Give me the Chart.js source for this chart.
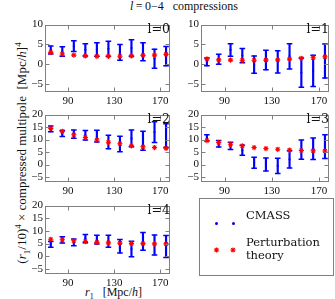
<!DOCTYPE html>
<html>
<head>
<meta charset="utf-8">
<script src="https://cdn.jsdelivr.net/npm/chart.js@4.4.1/dist/chart.umd.min.js"></script>
<style>
  body { margin: 0; background: #fff; }
  #fig { position: relative; width: 335px; height: 299px; overflow: hidden; background: #fff; color: #111; font-family: 'Liberation Serif', serif; }
  canvas { position: absolute; }
  .lab { position: absolute; white-space: nowrap; line-height: 1; }
  .plab { font-family: 'DejaVu Serif', serif; font-size: 12.5px; }
  #legend { position: absolute; left: 199px; top: 198px; width: 135px; height: 78px; box-sizing: border-box; border: 1px solid #808080; font-family: 'DejaVu Serif', serif; font-size: 11.5px; }
  .dot { position: absolute; width: 3px; height: 3px; border-radius: 50%; background: #0000ff; }
</style>
</head>
<body>
<div id="fig">
  <div class="lab" id="title" style="left:130px; top:0px; font-size:12px;"><i>l</i>&thinsp;=&thinsp;0&minus;4&nbsp;&nbsp; compressions</div>
  <div class="lab" style="left:23px; top:153px; font-size:13px; transform: translate(-50%,-50%) rotate(-90deg);">(<i>r</i><sub style="font-size:9px">1</sub>/10)<sup style="font-size:9px">4</sup> &times; compressed multipole&nbsp; [Mpc/<i>h</i>]<sup style="font-size:9px">4</sup></div>
  <div class="lab" style="left:85px; top:286px; font-size:12px;"><i>r</i><sub style="font-size:8px">1</sub>&nbsp;&nbsp; [Mpc/<i>h</i>]</div>

  <div id="legend">
    <span class="dot" style="left:15px; top:23px;"></span>
    <span class="dot" style="left:32px; top:23px;"></span>
    <div class="lab" style="left:46px; top:11px;">CMASS</div>
    <canvas id="star" width="40" height="12" style="left:8px; top:45px;"></canvas>
    <div class="lab" style="left:46px; top:38px;">Perturbation</div>
    <div class="lab" style="left:46px; top:51px;">theory</div>
  </div>
</div>

<script>
const r1 = [75, 85, 95, 105, 115, 125, 135, 145, 155, 165, 175];
const xTicks = [90, 130, 170];
const yTicksSmall = [-5, 0, 5, 10];
const yTicksLarge = [-5, 0, 5, 10, 15, 20];

// CMASS measurements (centre and 1-sigma error) and perturbation theory, one set per multipole
const cmass0 = [3.6, 3.2, 4.55, 3.65, 3.7, 3.9, 3.0, 4.1, 3.15, 1.4, 2.05];
const err0 = [1.0, 1.2, 1.35, 1.55, 1.7, 1.9, 2.0, 2.1, 2.25, 2.4, 2.45];
const theory0 = [3.0, 2.6, 2.3, 2.1, 2.0, 2.0, 2.0, 2.1, 2.25, 2.3, 2.5];

const cmass1 = [0.6, 1.25, 3.6, 2.2, -0.1, 1.05, 0.6, 2.0, -2.1, -1.65, 0.8];
const err1 = [1.0, 1.25, 1.6, 1.8, 2.2, 2.45, 2.8, 3.2, 3.7, 3.95, 4.3];
const theory1 = [1.35, 1.1, 1.05, 1.0, 1.0, 1.05, 1.1, 1.3, 1.5, 1.65, 1.9];

const cmass2 = [14.25, 12.4, 12.15, 11.7, 11.35, 9.0, 8.2, 10.45, 9.5, 12.95, 11.55];
const err2 = [1.15, 1.2, 1.65, 1.9, 2.35, 2.7, 3.1, 3.35, 3.8, 4.15, 4.75];
const theory2 = [14.5, 13.3, 11.9, 10.8, 9.8, 8.9, 8.3, 7.5, 7.1, 6.8, 6.5];

const cmass3 = [10.65, 8.3, 7.45, 5.7, 0.7, 0.0, -0.55, 2.05, 5.95, 6.3, 7.15];
const err3 = [1.25, 1.3, 1.45, 2.0, 2.2, 2.6, 3.05, 3.45, 3.85, 4.3, 4.75];
const theory3 = [9.6, 8.8, 8.1, 7.5, 6.8, 6.4, 6.1, 5.8, 5.6, 5.5, 5.4];

const cmass4 = [4.7, 6.45, 5.5, 6.95, 6.55, 5.95, 3.95, 2.85, 5.9, 4.45, 3.85];
const err4 = [1.1, 1.25, 1.3, 1.65, 1.75, 2.35, 2.65, 3.05, 3.5, 3.95, 4.35];
const theory4 = [6.7, 6.5, 6.1, 5.8, 5.5, 5.3, 5.2, 5.0, 5.0, 4.9, 4.9];

const BLUE = '#0000ff';
const RED = '#ff0000';
const yW = 24, xH = 16, padT = 2, padR = 3;

// frame with inward ticks on all four sides
const framePlugin = {
  id: 'frame',
  afterDraw(chart) {
    const { ctx, chartArea: a, scales: { x, y } } = chart;
    const L = Math.round(a.left) + 0.5, R = Math.round(a.right) - 0.5;
    const T = Math.round(a.top) + 0.5, B = Math.round(a.bottom) - 0.5;
    ctx.save();
    ctx.strokeStyle = '#808080';
    ctx.lineWidth = 1;
    ctx.strokeRect(L, T, R - L, B - T);
    ctx.beginPath();
    x.ticks.forEach(t => {
      const px = Math.round(x.getPixelForValue(t.value)) + 0.5;
      ctx.moveTo(px, B); ctx.lineTo(px, B - 4);
      ctx.moveTo(px, T); ctx.lineTo(px, T + 4);
    });
    y.ticks.forEach(t => {
      const py = Math.round(y.getPixelForValue(t.value)) + 0.5;
      ctx.moveTo(L, py); ctx.lineTo(L + 4, py);
      ctx.moveTo(R, py); ctx.lineTo(R - 4, py);
    });
    ctx.stroke();
    ctx.restore();
  }
};

function makePanel(cfg) {
  const canvas = document.createElement('canvas');
  const w = yW + cfg.w + padR, h = padT + cfg.h + xH;
  canvas.width = w; canvas.height = h;
  canvas.style.left = (cfg.left - yW) + 'px';
  canvas.style.top = (cfg.top - padT) + 'px';
  document.getElementById('fig').insertBefore(canvas, document.getElementById('legend'));

  const bars = r1.map((r, i) => ({ x: r, y: [cfg.mean[i] - cfg.err[i], cfg.mean[i] + cfg.err[i]] }));
  const tops = r1.map((r, i) => ({ x: r, y: cfg.mean[i] + cfg.err[i] }));
  const bottoms = r1.map((r, i) => ({ x: r, y: cfg.mean[i] - cfg.err[i] }));
  const centres = r1.map((r, i) => ({ x: r, y: cfg.mean[i] }));
  const theory = r1.map((r, i) => ({ x: r, y: cfg.theory[i] }));

  const tickFont = { family: "'Liberation Serif', serif", size: 11 };

  new Chart(canvas.getContext('2d'), {
    type: 'scatter',
    data: {
      datasets: [
        { type: 'bar', data: bars, backgroundColor: BLUE, borderWidth: 0, barThickness: 1.5, order: 3 },
        { data: tops, pointStyle: 'line', radius: 2.8, borderColor: BLUE, borderWidth: 1.5, order: 2 },
        { data: bottoms, pointStyle: 'line', radius: 2.8, borderColor: BLUE, borderWidth: 1.5, order: 2 },
        { data: centres, pointStyle: 'circle', radius: 1.1, backgroundColor: BLUE, borderWidth: 0, order: 2 },
        { data: theory, pointStyle: 'star', radius: 2.6, borderColor: RED, borderWidth: 1.1, order: 1 }
      ]
    },
    options: {
      responsive: false,
      animation: false,
      events: [],
      layout: { padding: { top: padT, right: padR, left: 0, bottom: 0 } },
      plugins: { legend: { display: false }, tooltip: { enabled: false } },
      scales: {
        x: {
          type: 'linear', min: 70, max: 178, offset: false,
          grid: { display: false, drawTicks: false }, border: { display: false },
          afterBuildTicks: s => { s.ticks = xTicks.map(v => ({ value: v })); },
          afterFit: s => { s.height = xH; },
          ticks: { padding: 3, color: '#111', font: tickFont, maxRotation: 0, autoSkip: false }
        },
        y: {
          type: 'linear', min: -7, max: cfg.yMax,
          grid: { display: false, drawTicks: false }, border: { display: false },
          afterBuildTicks: s => { s.ticks = cfg.yTicks.map(v => ({ value: v })); },
          afterFit: s => { s.width = yW; },
          ticks: {
            padding: 2, color: '#111', font: tickFont, autoSkip: false,
            callback: v => v < 0 ? '\u2212' + Math.abs(v) : String(v)
          }
        }
      }
    },
    plugins: [framePlugin]
  });

  const lab = document.createElement('div');
  lab.className = 'lab plab';
  lab.textContent = cfg.label;
  lab.style.right = (335 - cfg.left - cfg.w + 2) + 'px';
  lab.style.top = (cfg.top + 5) + 'px';
  document.getElementById('fig').appendChild(lab);
}

makePanel({ mean: cmass0, err: err0, theory: theory0, label: 'l=0', yMax: 10, yTicks: yTicksSmall, left: 45, top: 18, w: 127, h: 74 });
makePanel({ mean: cmass1, err: err1, theory: theory1, label: 'l=1', yMax: 10, yTicks: yTicksSmall, left: 201, top: 18, w: 130, h: 74 });
makePanel({ mean: cmass2, err: err2, theory: theory2, label: 'l=2', yMax: 20, yTicks: yTicksLarge, left: 45, top: 108, w: 127, h: 74 });
makePanel({ mean: cmass3, err: err3, theory: theory3, label: 'l=3', yMax: 20, yTicks: yTicksLarge, left: 201, top: 108, w: 130, h: 74 });
makePanel({ mean: cmass4, err: err4, theory: theory4, label: 'l=4', yMax: 20, yTicks: yTicksLarge, left: 45, top: 199, w: 127, h: 75 });

// legend markers
const sctx = document.getElementById('star').getContext('2d');
sctx.strokeStyle = RED; sctx.fillStyle = RED; sctx.lineWidth = 1.1;
[8.5, 25].forEach(px => {
  if (Chart.helpers && Chart.helpers.drawPoint) {
    Chart.helpers.drawPoint(sctx, { pointStyle: 'star', radius: 2.6, rotation: 0, borderWidth: 1.1 }, px, 6);
  }
});
</script>
</body>
</html>
